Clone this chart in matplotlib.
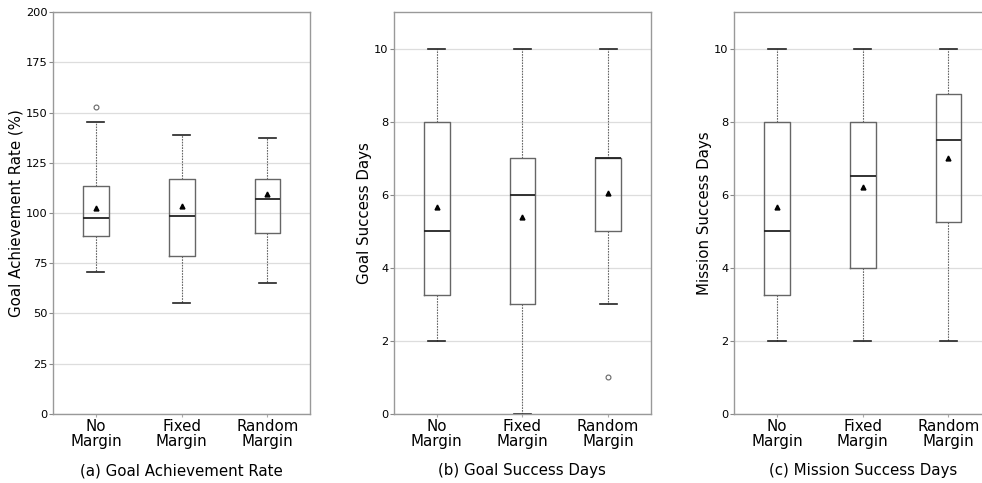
import matplotlib
matplotlib.use("Agg")
import matplotlib.pyplot as plt

categories = ["No\nMargin", "Fixed\nMargin", "Random\nMargin"]

# Panel (a) Goal Achievement Rate
a_whislo = [70.5, 55.0, 65.0]
a_q1 = [88.5, 78.5, 90.0]
a_med = [97.5, 98.5, 107.0]
a_q3 = [113.5, 117.0, 117.0]
a_whishi = [145.5, 139.0, 137.5]
a_mean = [102.5, 103.5, 109.5]
a_fliers = [[153.0], [], []]

# Panel (b) Goal Success Days
b_whislo = [2.0, 0.0, 3.0]
b_q1 = [3.25, 3.0, 5.0]
b_med = [5.0, 6.0, 7.0]
b_q3 = [8.0, 7.0, 7.0]
b_whishi = [10.0, 10.0, 10.0]
b_mean = [5.67, 5.38, 6.05]
b_fliers = [[], [], [1.0]]

# Panel (c) Mission Success Days
c_whislo = [2.0, 2.0, 2.0]
c_q1 = [3.25, 4.0, 5.25]
c_med = [5.0, 6.5, 7.5]
c_q3 = [8.0, 8.0, 8.75]
c_whishi = [10.0, 10.0, 10.0]
c_mean = [5.67, 6.22, 7.0]
c_fliers = [[], [], []]

panels = [
    dict(lo=a_whislo, q1=a_q1, med=a_med, q3=a_q3, hi=a_whishi, mean=a_mean, fl=a_fliers,
         ylabel="Goal Achievement Rate (%)", title="(a) Goal Achievement Rate",
         ylim=(0, 200), yticks=[0, 25, 50, 75, 100, 125, 150, 175, 200]),
    dict(lo=b_whislo, q1=b_q1, med=b_med, q3=b_q3, hi=b_whishi, mean=b_mean, fl=b_fliers,
         ylabel="Goal Success Days", title="(b) Goal Success Days",
         ylim=(0, 11), yticks=[0, 2, 4, 6, 8, 10]),
    dict(lo=c_whislo, q1=c_q1, med=c_med, q3=c_q3, hi=c_whishi, mean=c_mean, fl=c_fliers,
         ylabel="Mission Success Days", title="(c) Mission Success Days",
         ylim=(0, 11), yticks=[0, 2, 4, 6, 8, 10]),
]

fig = plt.figure(figsize=(9.82, 4.83), dpi=100)
lefts = [0.054, 0.401, 0.7475]
W = 0.262
B = 0.143
H = 0.832

for p, left in zip(panels, lefts):
    ax = fig.add_axes([left, B, W, H])
    stats = []
    for i in range(3):
        stats.append(dict(whislo=p["lo"][i], q1=p["q1"][i], med=p["med"][i], q3=p["q3"][i],
                          whishi=p["hi"][i], mean=p["mean"][i], fliers=p["fl"][i]))
    ax.bxp(stats, positions=[1, 2, 3], widths=0.3, capwidths=0.2, showmeans=True,
           boxprops=dict(color="#666666", linewidth=1.0),
           medianprops=dict(color="#222222", linewidth=1.3),
           whiskerprops=dict(color="#666666", linewidth=0.8, linestyle=(0, (1.5, 1))),
           capprops=dict(color="#222222", linewidth=1.2),
           meanprops=dict(marker="^", markerfacecolor="black", markeredgecolor="black", markersize=3.5),
           flierprops=dict(marker="o", markerfacecolor="none", markeredgecolor="#666666",
                           markersize=3.5, markeredgewidth=0.8))
    ax.set_ylim(*p["ylim"])
    ax.set_yticks(p["yticks"])
    ax.set_xlim(0.5, 3.5)
    ax.set_xticks([1, 2, 3])
    ax.set_xticklabels(categories, fontsize=10.8, linespacing=1.0)
    ax.tick_params(axis="y", labelsize=8.2, length=3, color="#888888", pad=1)
    ax.tick_params(axis="x", length=2, color="#aaaaaa", pad=2)
    ax.yaxis.grid(True, color="#dddddd", linewidth=0.9)
    ax.set_axisbelow(True)
    for s in ax.spines.values():
        s.set_color("#999999")
        s.set_linewidth(1.0)
    ax.set_ylabel(p["ylabel"], fontsize=10.8, labelpad=1.5)
    ax.set_xlabel(p["title"], fontsize=10.8, labelpad=10)

fig.savefig("out.png", dpi=100)
